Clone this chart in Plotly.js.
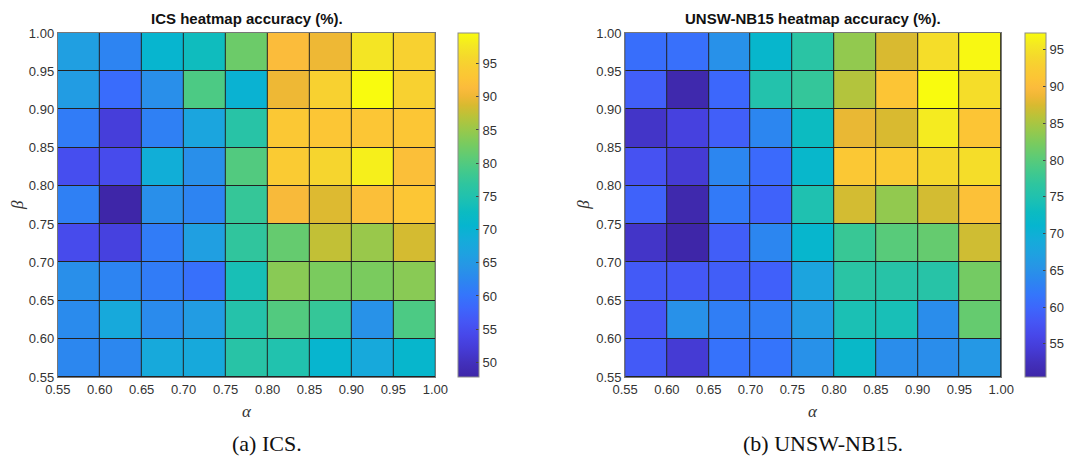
<!DOCTYPE html>
<html>
<head>
<meta charset="utf-8">
<script src="https://cdn.plot.ly/plotly-3.0.1.min.js"></script>
<style>
  html, body { margin: 0; padding: 0; background: #fff; }
  #chart { width: 1068px; height: 464px; }
</style>
</head>
<body>
<div id="chart"></div>
<script>
// Cell edges (alpha along x, beta along y)
const alphaEdges = [0.55, 0.60, 0.65, 0.70, 0.75, 0.80, 0.85, 0.90, 0.95, 1.00];
const betaEdges  = [0.55, 0.60, 0.65, 0.70, 0.75, 0.80, 0.85, 0.90, 0.95, 1.00];
const tickLabels = ["0.55", "0.60", "0.65", "0.70", "0.75", "0.80", "0.85", "0.90", "0.95", "1.00"];

// ICS accuracy (%), rows listed from beta = 0.95-1.00 (top) down to 0.55-0.60 (bottom)
const icsRowsTopDown = [
  [66.0, 62.0, 70.5, 73.0, 82.0, 91.5, 90.0, 97.5, 95.0],
  [65.5, 59.0, 63.5, 79.5, 70.0, 90.0, 95.0, 99.6, 95.0],
  [61.0, 52.5, 61.5, 67.0, 76.0, 93.5, 93.0, 93.0, 93.0],
  [55.0, 54.5, 69.0, 63.5, 80.0, 94.0, 95.5, 98.5, 92.0],
  [61.5, 47.8, 63.5, 62.0, 77.5, 91.0, 89.0, 92.0, 93.0],
  [54.5, 53.0, 61.0, 66.0, 77.0, 81.5, 87.5, 85.0, 88.5],
  [63.5, 62.0, 61.0, 59.5, 74.0, 84.0, 83.0, 83.0, 84.0],
  [63.0, 68.0, 63.0, 65.5, 75.5, 80.0, 77.5, 64.0, 79.5],
  [62.5, 62.5, 68.0, 68.0, 76.0, 75.0, 70.5, 68.0, 71.0]
];

// UNSW-NB15 accuracy (%), rows listed from top to bottom
const unswRowsTopDown = [
  [60.8, 61.0, 65.0, 71.5, 76.2, 83.7, 87.5, 94.5, 97.0],
  [59.0, 51.0, 60.0, 75.3, 77.2, 85.6, 91.2, 97.3, 94.5],
  [53.3, 55.2, 59.0, 63.6, 73.0, 88.4, 87.5, 95.9, 91.2],
  [57.5, 54.2, 63.6, 60.3, 71.6, 91.7, 92.2, 94.0, 94.5],
  [59.4, 51.0, 62.2, 59.4, 74.8, 87.2, 83.7, 87.2, 90.7],
  [53.3, 50.5, 58.9, 63.6, 71.3, 77.6, 80.0, 80.9, 87.0],
  [58.5, 58.2, 58.9, 59.2, 67.8, 76.2, 75.8, 75.8, 81.9],
  [58.0, 65.0, 62.7, 62.7, 66.4, 74.4, 74.1, 64.5, 80.9],
  [58.5, 54.2, 61.3, 61.5, 65.0, 72.0, 64.5, 64.5, 65.9]
];

const icsColorbarTicks  = [50, 55, 60, 65, 70, 75, 80, 85, 90, 95];
const unswColorbarTicks = [55, 60, 65, 70, 75, 80, 85, 90, 95];

const titles = ["ICS heatmap accuracy (%).", "UNSW-NB15 heatmap accuracy (%)."];
const captions = ["(a) ICS.", "(b) UNSW-NB15."];

// Approximation of MATLAB parula
const parula = [
  [0.00, '#3e26a8'], [0.04, '#4230bb'], [0.08, '#453bd5'], [0.12, '#4747e9'],
  [0.16, '#4556f5'], [0.20, '#3d66fc'], [0.24, '#3476fb'], [0.28, '#2c86f0'],
  [0.32, '#2795e6'], [0.36, '#1ea2e0'], [0.40, '#14acd9'], [0.44, '#06b5cf'],
  [0.48, '#0cbbc1'], [0.52, '#1fc1b0'], [0.56, '#2ec59f'], [0.60, '#44c98b'],
  [0.64, '#5ecb75'], [0.68, '#7acb5e'], [0.72, '#9ac84a'], [0.76, '#bcc238'],
  [0.79, '#d8ba30'], [0.815, '#eeb835'], [0.84, '#fbbb3c'], [0.87, '#fcc535'],
  [0.90, '#f9cd32'], [0.93, '#f5d82c'], [0.965, '#f4e823'], [1.00, '#f9fb0e']
];

const W = 1068, H = 464;
const px = v => v / W;
const py = v => (H - v) / H;

function flat(a) { return [].concat(...a); }

function makeTrace(rowsTopDown, xa, ya, cbLeft, cbTicks) {
  const z = rowsTopDown.slice().reverse();
  const all = flat(rowsTopDown);
  return {
    type: 'heatmap',
    x: alphaEdges, y: betaEdges, z: z,
    xaxis: xa, yaxis: ya,
    colorscale: parula,
    zmin: Math.min(...all), zmax: Math.max(...all),
    xgap: 1, ygap: 1,
    hoverinfo: 'skip',
    colorbar: {
      x: px(cbLeft), xanchor: 'left', xref: 'paper',
      y: py(377), yanchor: 'bottom', yref: 'paper',
      len: 344 / H, lenmode: 'fraction',
      thickness: 21, thicknessmode: 'pixels',
      outlinecolor: '#8c8c8c', outlinewidth: 1,
      tickvals: cbTicks, ticktext: cbTicks.map(String),
      ticks: 'inside', ticklen: 3, tickcolor: '#444',
      tickfont: { family: 'Liberation Sans, Arial, sans-serif', size: 13, color: '#333' },
      xpad: 0, ypad: 0
    }
  };
}

const axisCommon = {
  range: [0.55, 1.0],
  tickvals: alphaEdges, ticktext: tickLabels,
  ticks: '', showgrid: false, zeroline: false,
  showline: true, mirror: true, linecolor: '#777', linewidth: 1,
  tickfont: { family: 'Liberation Sans, Arial, sans-serif', size: 13, color: '#333' },
  fixedrange: true
};

const layout = {
  width: W, height: H,
  margin: { l: 0, r: 0, t: 0, b: 0 },
  paper_bgcolor: '#ffffff',
  plot_bgcolor: '#222222',
  showlegend: false,
  xaxis:  Object.assign({}, axisCommon, { domain: [px(58), px(437)], anchor: 'y' }),
  yaxis:  Object.assign({}, axisCommon, { domain: [py(377), py(33)], anchor: 'x', tickvals: betaEdges }),
  xaxis2: Object.assign({}, axisCommon, { domain: [px(627.5), px(1005)], anchor: 'y2' }),
  yaxis2: Object.assign({}, axisCommon, { domain: [py(377), py(33)], anchor: 'x2', tickvals: betaEdges }),
  annotations: []
};

const titleFont = { family: 'Liberation Sans, Arial, sans-serif', size: 15, color: '#111' };
const greekFont = { family: 'Liberation Serif, serif', size: 17, color: '#333' };
const captionFont = { family: 'Liberation Serif, serif', size: 22, color: '#111' };

const centers = [247.5, 816];
const betaX = [17, 585];
const captionX = [268, 826];
for (let i = 0; i < 2; i++) {
  layout.annotations.push({
    text: '<b>' + titles[i] + '</b>', x: px(centers[i]), y: py(18),
    xref: 'paper', yref: 'paper', xanchor: 'center', yanchor: 'middle',
    showarrow: false, font: titleFont
  });
  layout.annotations.push({
    text: '<i>α</i>', x: px(centers[i]), y: py(411),
    xref: 'paper', yref: 'paper', xanchor: 'center', yanchor: 'middle',
    showarrow: false, font: greekFont
  });
  layout.annotations.push({
    text: '<i>β</i>', x: px(betaX[i]), y: py(205), textangle: -90,
    xref: 'paper', yref: 'paper', xanchor: 'center', yanchor: 'middle',
    showarrow: false, font: greekFont
  });
  layout.annotations.push({
    text: captions[i], x: px(captionX[i]), y: py(443),
    xref: 'paper', yref: 'paper', xanchor: 'center', yanchor: 'middle',
    showarrow: false, font: captionFont
  });
}

const data = [
  makeTrace(icsRowsTopDown, 'x', 'y', 460, icsColorbarTicks),
  makeTrace(unswRowsTopDown, 'x2', 'y2', 1028.5, unswColorbarTicks)
];

Plotly.newPlot('chart', data, layout, { displayModeBar: false, staticPlot: true });
</script>
</body>
</html>
